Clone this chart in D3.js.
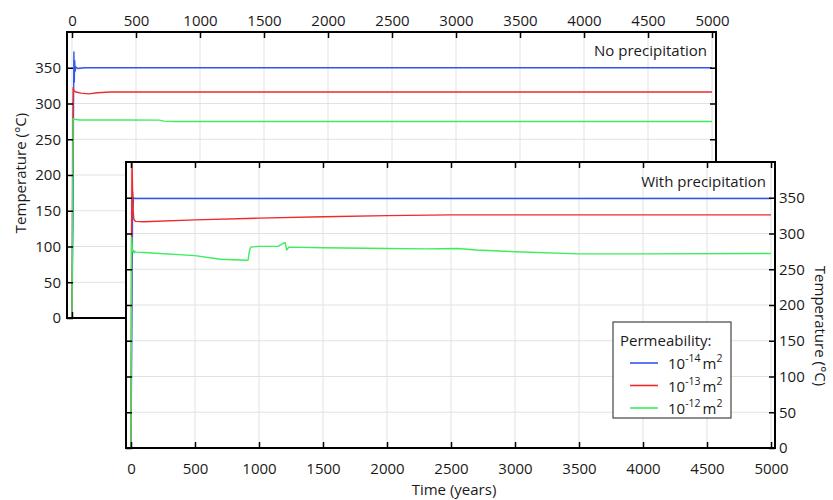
<!DOCTYPE html>
<html><head><meta charset="utf-8">
<script src="https://cdn.jsdelivr.net/npm/d3@7"></script>
<style>body{margin:0;background:#fff}svg{font-family:"Open Sans",sans-serif}</style>
</head><body><svg id="c" width="833" height="500"></svg>
<script>
const xTicks = [0,500,1000,1500,2000,2500,3000,3500,4000,4500,5000];
const yTicks = [0,50,100,150,200,250,300,350];
const seriesNames = ["10^-14","10^-13","10^-12"];
const colors = ["#3355ee","#ee2a2a","#3ced5c"];
// No precipitation: [time (years), temperature]
const noBlue = [[0,0],[8,150],[12,300],[15,372],[18,330],[21,360],[24,345],[30,351],[45,349],[100,350],[5000,350]];
const noRed = [[0,0],[6,250],[9,322],[15,318],[30,316],[70,314.5],[130,313.5],[200,315],[300,316],[5000,316]];
const noGreen = [[0,0],[6,200],[9,279],[20,278],[60,277],[400,277],[680,276.8],[720,275.3],[800,274.8],[5000,274.8]];
// With precipitation
const wBlue = [[0,0],[8,200],[13,358],[16,336],[20,350],[30,349],[5000,349]];
const wRed = [[0,0],[5,300],[8,405],[14,340],[22,320],[35,317],[100,316.5],[500,319],[1000,321.5],[1500,323.5],[2000,325],[2500,326],[5000,326]];
const wGreen = [[0,0],[5,295],[10,280],[14,276],[18,274],[22,276],[26,273],[30,275],[40,274],[100,273.5],[500,269],[700,264],[900,262.5],[915,263],[925,275],[935,281],[1000,282],[1150,282],[1185,286],[1205,287],[1215,277],[1235,281],[1500,280],[2000,279],[2300,278.5],[2550,279],[2700,277],[3000,274.5],[3500,271.5],[4000,271.5],[5000,272]];

const svg = d3.select("#c");
const W = 649, H = 286;
const x = d3.scaleLinear().domain([-39, 5031]).range([0, W]);
const y = d3.scaleLinear().domain([0, 400]).range([H, 0]);
const line = d3.line().x(d => x(d[0])).y(d => y(d[1]));
const FS = 15;

function panel(ox, oy, id, data, opts) {
  const g = svg.append("g").attr("transform", `translate(${ox},${oy})`);
  g.append("rect").attr("width", W).attr("height", H).attr("fill", "#fff");
  g.append("clipPath").attr("id", id).append("rect").attr("width", W).attr("height", H);
  const grid = g.append("g").attr("stroke", "#e2e2e2").attr("stroke-width", 1);
  grid.selectAll(".vx").data(xTicks).join("line").attr("x1", d => x(d)).attr("x2", d => x(d)).attr("y1", 0).attr("y2", H);
  grid.selectAll(".hy").data(yTicks).join("line").attr("y1", d => y(d)).attr("y2", d => y(d)).attr("x1", 0).attr("x2", W);
  const lg = g.append("g").attr("clip-path", `url(#${id})`);
  data.forEach((s, i) => lg.append("path").attr("d", line(s)).attr("fill", "none").attr("stroke", colors[i]).attr("stroke-width", 1.4).attr("stroke-linejoin", "round"));
  const style = a => { a.select(".domain").remove(); a.selectAll("line").attr("stroke", "#000").attr("stroke-width", 1.5); a.selectAll("text").attr("font-size", FS).attr("fill", "#1a1a1a").attr("font-family", "Open Sans"); };
  g.append("g").call(d3.axisTop(x).tickValues(xTicks).tickSize(-6).tickPadding(6).tickFormat(opts.topLabels ? d3.format("d") : "")).call(style);
  g.append("g").attr("transform", `translate(0,${H})`).call(d3.axisBottom(x).tickValues(xTicks).tickSize(-6).tickPadding(15).tickFormat(opts.bottomLabels ? d3.format("d") : "")).call(style);
  g.append("g").call(d3.axisLeft(y).tickValues(yTicks).tickSize(-6).tickPadding(6).tickFormat(opts.leftLabels ? d3.format("d") : "")).call(style);
  g.append("g").attr("transform", `translate(${W},0)`).call(d3.axisRight(y).tickValues(yTicks).tickSize(-6).tickPadding(4).tickFormat(opts.rightLabels ? d3.format("d") : "")).call(style);
  g.append("rect").attr("width", W).attr("height", H).attr("fill", "none").attr("stroke", "#000").attr("stroke-width", 2);
  g.append("text").attr("x", W - 9).attr("y", opts.titleY).attr("text-anchor", "end").attr("font-size", FS).attr("fill", "#1a1a1a").text(opts.title);
  return g;
}

panel(67, 32, "clipA", [noBlue, noRed, noGreen], {topLabels: true, leftLabels: true, title: "No precipitation", titleY: 24});
const gB = panel(126, 162, "clipB", [wBlue, wRed, wGreen], {bottomLabels: true, rightLabels: true, title: "With precipitation", titleY: 25});

svg.append("text").attr("transform", "translate(26,173) rotate(-90)").attr("text-anchor", "middle").attr("font-size", FS).attr("fill", "#1a1a1a").text("Temperature (°C)");
svg.append("text").attr("transform", "translate(815,326) rotate(90)").attr("text-anchor", "middle").attr("font-size", FS).attr("fill", "#1a1a1a").text("Temperature (°C)");
svg.append("text").attr("x", 454).attr("y", 495).attr("text-anchor", "middle").attr("font-size", FS).attr("fill", "#1a1a1a").text("Time (years)");

// legend
const leg = svg.append("g").attr("transform", "translate(613,322)");
leg.append("rect").attr("width", 118).attr("height", 96).attr("fill", "#fff").attr("stroke", "#444").attr("stroke-width", 1.2);
leg.append("text").attr("x", 7).attr("y", 24).attr("font-size", FS).attr("fill", "#1a1a1a").text("Permeability:");
const exps = ["-14", "-13", "-12"];
seriesNames.forEach((n, i) => {
  const yy = 41 + i * 22.5;
  leg.append("line").attr("x1", 17).attr("x2", 45).attr("y1", yy).attr("y2", yy).attr("stroke", colors[i]).attr("stroke-width", 1.6);
  const t = leg.append("text").attr("x", 55).attr("y", yy + 6).attr("font-size", FS).attr("fill", "#1a1a1a");
  t.append("tspan").text("10");
  t.append("tspan").attr("font-size", 10.5).attr("dy", -7).text(exps[i]);
  t.append("tspan").attr("dy", 7).attr("dx", 2).text("m");
  t.append("tspan").attr("font-size", 10.5).attr("dy", -7).text("2");
});
</script></body></html>
